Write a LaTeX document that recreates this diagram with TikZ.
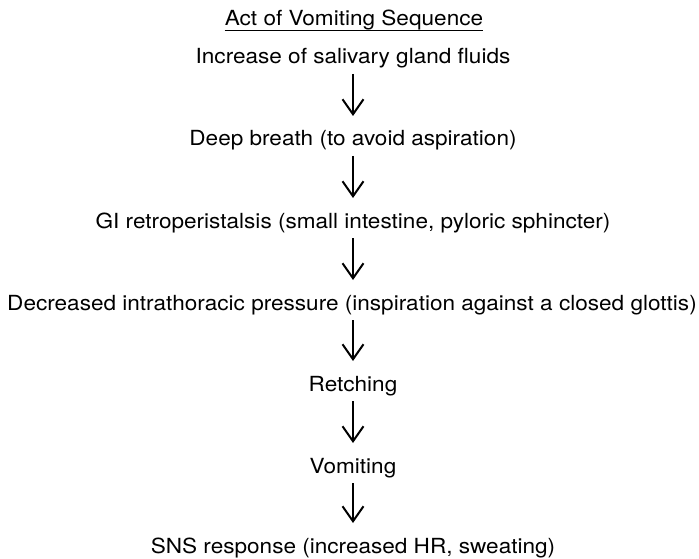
\documentclass[tikz,border=0pt]{standalone}
\usepackage{fontspec}
\setmainfont{TeX Gyre Heros}
\usetikzlibrary{arrows.meta}
\newcommand{\wtxt}[1]{\scalebox{1.085}[1]{#1}}
\begin{document}
\begin{tikzpicture}[x=1pt,y=-1pt,
  lbl/.style={anchor=base,inner sep=0pt,font=\fontsize{20.8}{24}\selectfont},
  arr/.style={line width=2pt,-{Straight Barb[length=15pt,width=21pt,line width=2pt]}}]
\useasboundingbox[fill=white] (0,0) rectangle (699,559);
\node[lbl] (t) at (354,26) {\wtxt{Act of Vomiting Sequence}};
\draw[line width=0.9pt] ([yshift=-4pt]t.base west) -- ([yshift=-4pt]t.base east);
\node[lbl] (a) at (353,64) {\wtxt{Increase of salivary gland fluids}};
\node[lbl] (b) at (353,146) {\wtxt{Deep breath (to avoid aspiration)}};
\node[lbl] (c) at (353,228) {\wtxt{GI retroperistalsis (small intestine, pyloric sphincter)}};
\node[lbl] (d) at (352,310) {\wtxt{Decreased intrathoracic pressure (inspiration against a closed glottis)}};
\node[lbl] (e) at (353,391) {\wtxt{Retching}};
\node[lbl] (f) at (353,473) {\wtxt{Vomiting}};
\node[lbl] (g) at (353,553) {\wtxt{SNS response (increased HR, sweating)}};
\foreach \u/\v in {a/b,b/c,c/d,d/e,e/f,f/g}
  \draw[arr] ([yshift=-10pt]\u.base -| 353,0) -- ([yshift=30pt]\v.base -| 353,0);
\end{tikzpicture}
\end{document}
